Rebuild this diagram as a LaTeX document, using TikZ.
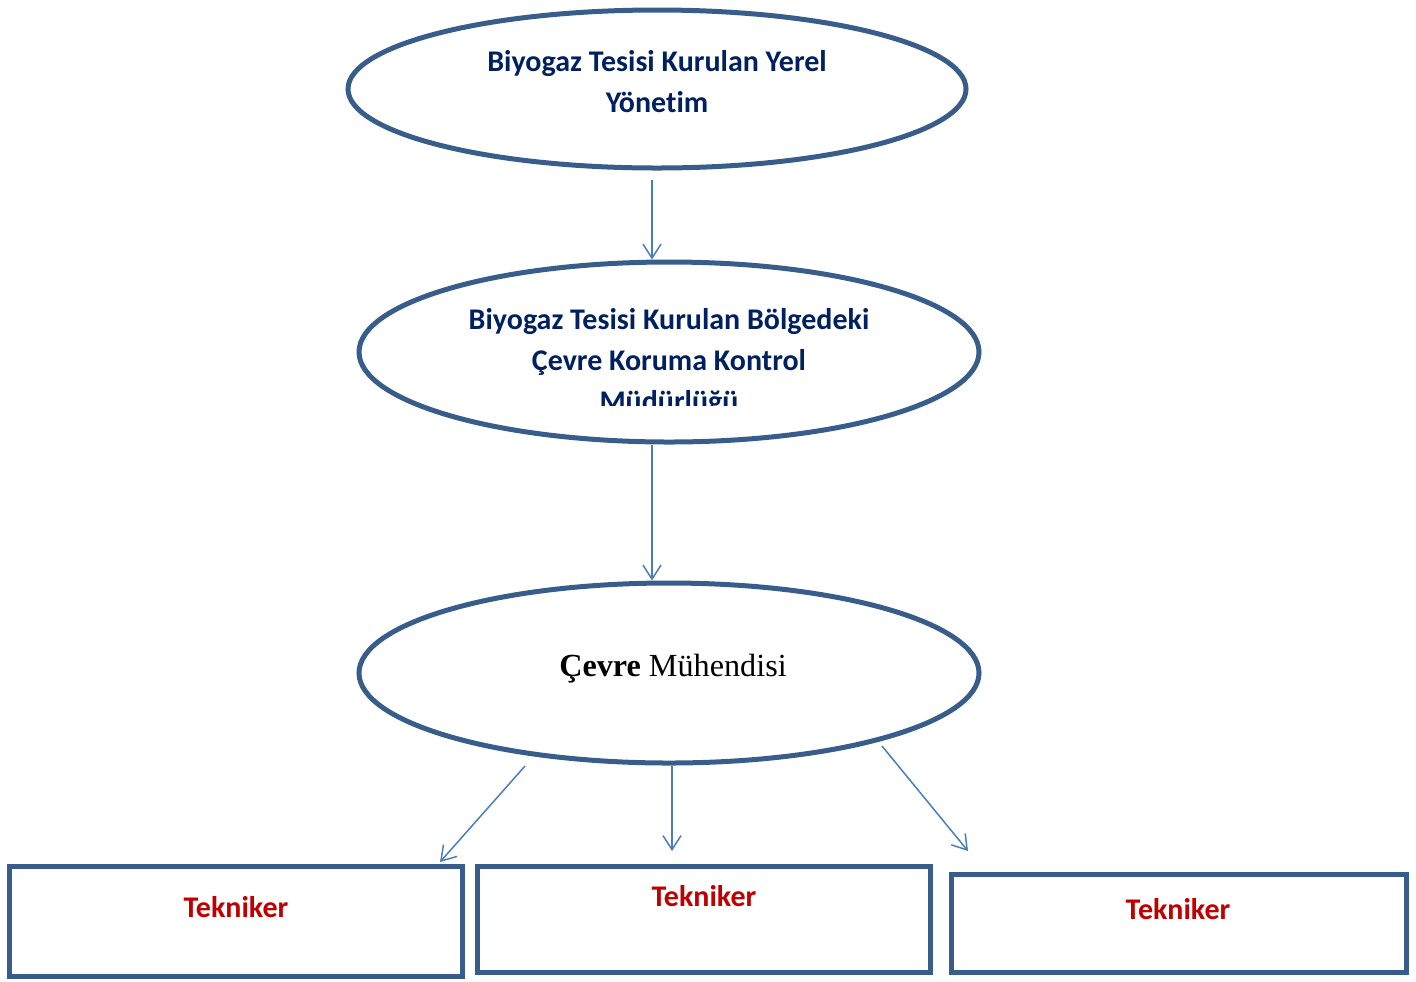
\documentclass[tikz,border=0pt]{standalone}
\usepackage{fontspec}
\setmainfont[Ligatures=NoCommon]{Carlito}
\newfontfamily\timesfont{Liberation Serif}
\usetikzlibrary{shapes.geometric,arrows.meta}
\definecolor{edgeblue}{RGB}{56,93,138}
\definecolor{linkblue}{RGB}{74,126,187}
\definecolor{navy}{RGB}{0,32,96}
\definecolor{darkred}{RGB}{192,0,0}

\begin{document}
\begin{tikzpicture}[x=0.5pt, y=-0.5pt,
  unit/.style={ellipse, draw=edgeblue, line width=2.5pt, minimum width=310pt, minimum height=90pt, inner sep=0pt},
  staff/.style={rectangle, draw=edgeblue, line width=2.5pt, minimum width=226.5pt, inner sep=0pt},
  title/.style={text=navy, font=\bfseries\fontsize{15}{20.5}\selectfont, align=center},
  tech/.style={text=darkred, font=\bfseries\fontsize{15}{20.5}\selectfont},
  link/.style={draw=linkblue, line width=0.75pt, -{Straight Barb[length=7pt,width=9pt]}}]
\useasboundingbox (0,0) rectangle (1416,981);

% the three levels
\node[unit, minimum width=309pt, minimum height=79pt] (yerel) at (657,89) {};
\node[title] (yerelt) at (657,82) {Biyogaz Tesisi Kurulan Yerel\\Yönetim};

\node[unit] (bolge) at (669,352) {};
\begin{scope}
  \clip (357,262) rectangle (981,405);
  \node[title] (bolget) at (669,363) {Biyogaz Tesisi Kurulan Bölgedeki\\Çevre Koruma Kontrol\\Müdürlüğü};
\end{scope}

\node[unit] (muh) at (669,673) {};
\node[font=\timesfont\fontsize{16.1}{18}\selectfont] (muht) at (673,669) {\textbf{Çevre} Mühendisi};

% technicians
\node[staff, minimum height=55pt] (tek1) at (235.5,921) {};
\node[staff, minimum height=53pt] (tek2) at (703.5,919) {};
\node[staff, minimum width=227.5pt, minimum height=49pt] (tek3) at (1178.5,923) {};
\node[tech] (tek1t) at (236,907) {Tekniker};
\node[tech] (tek2t) at (704,896) {Tekniker};
\node[tech] (tek3t) at (1178,909) {Tekniker};

% connectors
\coordinate (top) at (652,180);
\draw[link] (top) -- (top |- bolge.north);
\draw[link] (top |- bolge.south) -- (top |- muh.north);

\coordinate (left) at (525,766);
\coordinate (leftend) at (440,862);
\coordinate (mid) at (672,766);
\coordinate (midend) at (672,851);
\coordinate (right) at (882,746);
\coordinate (rightend) at (968,851);
\draw[link] (left) -- (leftend);
\draw[link] (mid) -- (midend);
\draw[link] (right) -- (rightend);
\end{tikzpicture}
\end{document}
